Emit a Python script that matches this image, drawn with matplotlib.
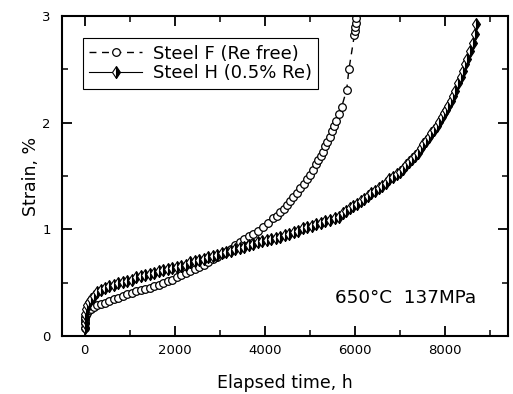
import matplotlib
matplotlib.use("Agg")
import matplotlib.pyplot as plt
import matplotlib as mpl
from matplotlib.ticker import MultipleLocator

mpl.rcParams['font.family'] = ['DejaVu Sans']
mpl.rcParams['axes.linewidth'] = 1.5
mpl.rcParams['xtick.direction'] = 'in'
mpl.rcParams['ytick.direction'] = 'in'
mpl.rcParams['xtick.top'] = True
mpl.rcParams['ytick.right'] = True

# Steel F (Re free): elapsed time (h), strain (%)
f_time = [0, 0, 5, 15, 30, 60, 100, 150, 210, 280, 360, 450, 550, 650, 750, 850,
          950, 1050, 1150, 1250, 1350, 1450, 1550, 1650, 1750, 1850, 1950, 2050,
          2150, 2250, 2350, 2450, 2550, 2650, 2750, 2850, 2950, 3050, 3150, 3250,
          3350, 3460, 3550, 3650, 3740, 3850, 3960, 4080, 4190, 4270, 4340, 4420,
          4500, 4570, 4630, 4710, 4790, 4870, 4940, 5010, 5080, 5140, 5190, 5240,
          5290, 5340, 5380, 5440, 5490, 5540, 5580, 5650, 5710, 5820, 5870, 5990,
          6000, 6010, 6020, 6020]
f_strain = [0.08, 0.12, 0.15, 0.18, 0.20, 0.22, 0.24, 0.25, 0.27, 0.29, 0.30, 0.31,
            0.33, 0.35, 0.36, 0.38, 0.39, 0.40, 0.42, 0.43, 0.44, 0.45, 0.47, 0.48,
            0.50, 0.52, 0.53, 0.55, 0.57, 0.59, 0.61, 0.63, 0.65, 0.67, 0.69, 0.72,
            0.74, 0.77, 0.79, 0.82, 0.85, 0.88, 0.91, 0.94, 0.96, 0.99, 1.02, 1.06,
            1.11, 1.13, 1.16, 1.19, 1.23, 1.27, 1.30, 1.34, 1.39, 1.43, 1.47, 1.51,
            1.56, 1.61, 1.65, 1.69, 1.73, 1.78, 1.82, 1.87, 1.92, 1.97, 2.02, 2.08,
            2.15, 2.31, 2.50, 2.82, 2.86, 2.90, 2.94, 2.98]

# Steel H (0.5% Re)
h_time = [0, 0, 5, 15, 30, 60, 100, 150, 210, 280, 360, 450, 550, 650, 750, 850,
          950, 1050, 1150, 1250, 1350, 1450, 1550, 1650, 1750, 1850, 1950, 2050,
          2150, 2250, 2350, 2450, 2550, 2650, 2750, 2850, 2950, 3050, 3150, 3250,
          3350, 3450, 3550, 3650, 3750, 3850, 3950, 4050, 4150, 4250, 4350, 4450,
          4550, 4650, 4750, 4850, 4950, 5050, 5150, 5250, 5350, 5450, 5550, 5650,
          5730, 5810, 5890, 5970, 6050, 6130, 6210, 6290, 6370, 6450, 6530, 6610,
          6690, 6770, 6850, 6930, 7000, 7070, 7140, 7210, 7280, 7340, 7400, 7460,
          7520, 7580, 7640, 7700, 7760, 7820, 7880, 7930, 7980, 8030, 8080, 8130,
          8180, 8230, 8290, 8350, 8400, 8450, 8490, 8550, 8620, 8660, 8700]
h_strain = [0.08, 0.12, 0.17, 0.21, 0.25, 0.29, 0.32, 0.35, 0.38, 0.41, 0.43, 0.45,
            0.47, 0.48, 0.50, 0.51, 0.52, 0.53, 0.55, 0.56, 0.57, 0.58, 0.59, 0.61,
            0.62, 0.63, 0.64, 0.65, 0.66, 0.67, 0.69, 0.70, 0.71, 0.72, 0.74, 0.75,
            0.76, 0.78, 0.79, 0.80, 0.82, 0.83, 0.84, 0.85, 0.86, 0.88, 0.89, 0.90,
            0.91, 0.92, 0.93, 0.95, 0.96, 0.98, 0.99, 1.01, 1.02, 1.03, 1.05, 1.06,
            1.08, 1.09, 1.11, 1.12, 1.15, 1.17, 1.20, 1.22, 1.24, 1.27, 1.29, 1.31,
            1.34, 1.36, 1.39, 1.41, 1.44, 1.47, 1.49, 1.52, 1.54, 1.57, 1.60, 1.63,
            1.66, 1.69, 1.72, 1.76, 1.80, 1.83, 1.87, 1.90, 1.93, 1.97, 2.01, 2.05,
            2.09, 2.12, 2.16, 2.20, 2.25, 2.30, 2.37, 2.43, 2.49, 2.55, 2.60, 2.67,
            2.75, 2.83, 2.93]

fig = plt.figure(figsize=(5.13, 3.94), dpi=100)
ax = fig.add_axes([0.121, 0.147, 0.869, 0.812])

ax.plot(f_time, f_strain, color='black', linestyle=(0, (5, 4)), linewidth=1.0,
        marker='o', markersize=5.5, markerfacecolor='white', markeredgecolor='black',
        markeredgewidth=0.9, label='Steel F (Re free)')
ax.plot(h_time, h_strain, color='black', linestyle='-', linewidth=0.8,
        marker='d', markersize=6, fillstyle='right', markerfacecolor='black',
        markerfacecoloralt='white', markeredgecolor='black', markeredgewidth=0.8,
        label='Steel H (0.5% Re)')

ax.set_xlim(-500, 9400)
ax.set_ylim(0, 3)
ax.xaxis.set_major_locator(MultipleLocator(2000))
ax.xaxis.set_minor_locator(MultipleLocator(1000))
ax.yaxis.set_major_locator(MultipleLocator(1))
ax.yaxis.set_minor_locator(MultipleLocator(0.5))
ax.tick_params(which='major', length=7, width=1.3, labelsize=9.5, pad=6)
ax.tick_params(which='minor', length=4, width=1.1)
ax.tick_params(axis='y', which='major', pad=8)

ax.set_xlabel('Elapsed time, h', fontsize=12.5, labelpad=12)
ax.set_ylabel('Strain, %', fontsize=12.5, labelpad=2)

ax.text(5560, 0.36, '650°C  137MPa', fontsize=13.2, va='center', ha='left')

leg = ax.legend(loc='upper left', bbox_to_anchor=(0.047, 0.931), fontsize=13,
                frameon=True, fancybox=False, edgecolor='black', framealpha=1,
                handlelength=2.9, handletextpad=0.6, borderpad=0.35,
                borderaxespad=0, labelspacing=0.1)
leg.get_frame().set_linewidth(0.8)

fig.savefig('out.png', dpi=100)
